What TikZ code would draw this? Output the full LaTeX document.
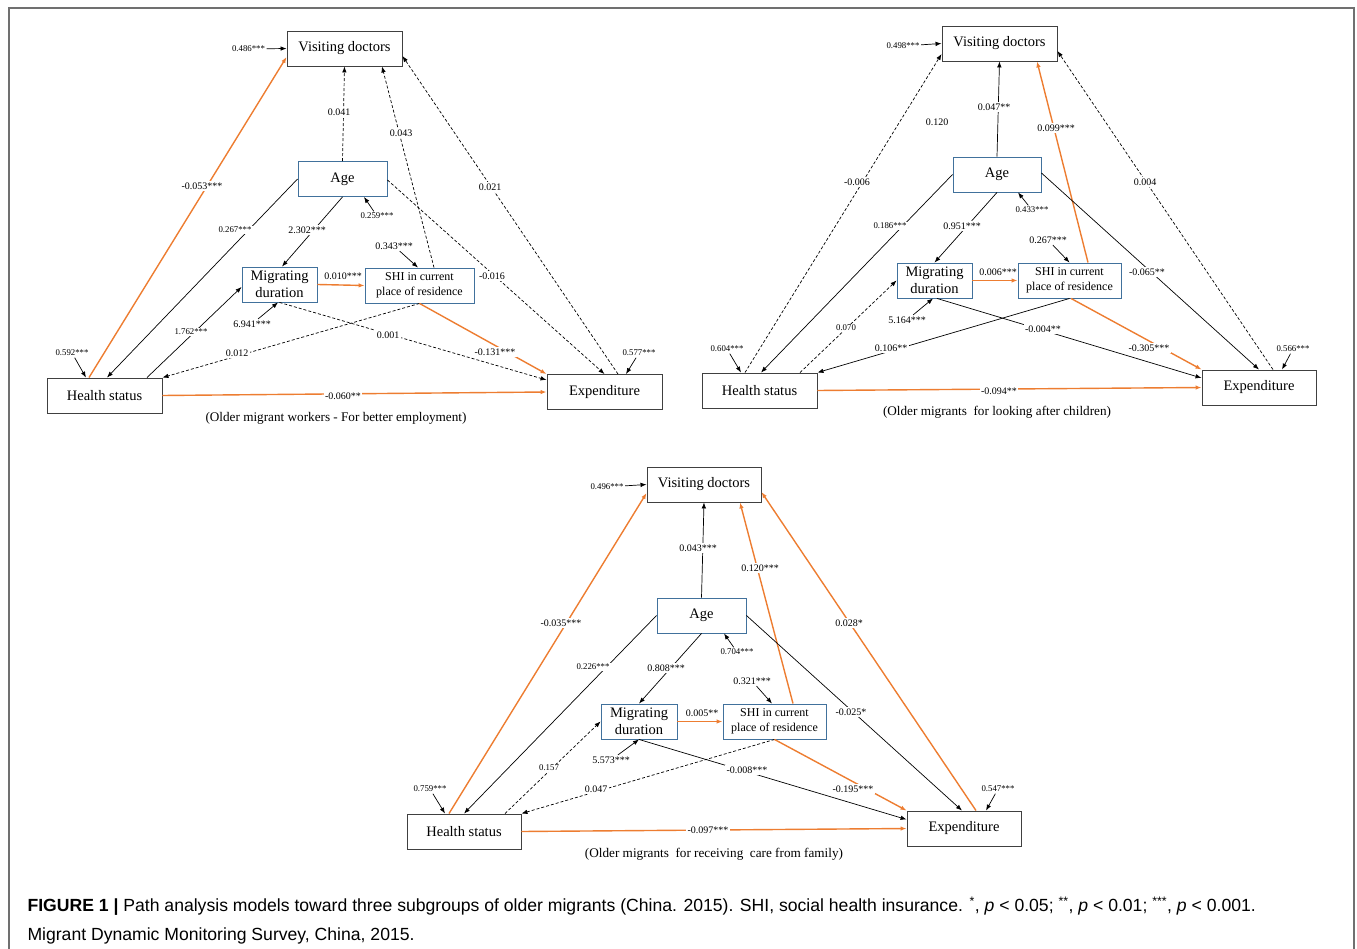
\documentclass[tikz,border=0pt]{standalone}
\usepackage{fontspec}
\setmainfont{Liberation Serif}
\setsansfont{Liberation Sans}
\usepackage{xcolor}
\usetikzlibrary{arrows.meta}

\definecolor{orng}{HTML}{ED7D31}
\definecolor{steel}{HTML}{41719C}
\definecolor{frm}{HTML}{707070}

\begin{document}
\begin{tikzpicture}[
 x=1pt, y=-1pt,
 box/.style = {
    rectangle,
    draw=black!75,
    line width=0.9pt,
    minimum width=115pt,
    minimum height=35pt,
    inner sep=1pt,
    align=center,
    font=\fontsize{14.5}{17}\selectfont},
 vbox/.style = {box, draw=steel},
 sbox/.style = {vbox, font=\fontsize{12}{14.5}\selectfont},
 lbl/.style = {fill=white, inner sep=1.5pt, font=\fontsize{10}{12}\selectfont},
 sml/.style = {lbl, font=\fontsize{8.8}{10}\selectfont},
 subcap/.style = {font=\fontsize{13.2}{15}\selectfont},
 blk/.style = {->, line width=0.7pt},
 dsh/.style = {blk, dash pattern=on 3pt off 2pt},
 org/.style = {->, draw=orng, line width=1.4pt},
 >={Latex[length=6pt,width=4.5pt]}
 ]
\useasboundingbox (0,0) rectangle (1357,949);
\draw[frm, line width=1.2pt] (9,949) -- (9,8) -- (1354,8) -- (1354,949);

% better employment
\node(vd1)[box] at (344.5,48.5){Visiting doctors};
\node(ag1)[vbox, minimum width=89pt] at (342.5,179){Age};
\node(md1)[vbox, minimum width=75pt] at (279.5,284.5){Migrating\\duration};
\node(sh1)[sbox, minimum width=109pt] at (419.5,285.5){SHI in current\\place of residence};
\node(hs1)[box] at (104.5,395.5){Health status};
\node(ex1)[box] at (604.5,392){Expenditure};

\draw[org] ([xshift=-15.5pt]hs1.north) -- ([yshift=-8.5pt]vd1.west);
\draw[dsh] (ag1.north) -- (vd1.south);
\draw[dsh] ([xshift=14.5pt]sh1.north) -- ([xshift=37.5pt]vd1.south);
\draw[dsh] ([xshift=13.5pt]ex1.north) -- ([yshift=-7.5pt]vd1.east);
\draw[dsh] ([yshift=-1pt]ag1.east) -- (ex1.north);
\draw[blk] (ag1.west) -- ([xshift=2.5pt]hs1.north);
\draw[blk] (ag1.south) -- ([xshift=2.5pt]md1.north);
\draw[org] (md1.east) -- (sh1.west);
\draw[blk] ([xshift=42.5pt]hs1.north) -- ([yshift=-2.5pt]md1.west);
\draw[dsh] (sh1.south) -- (hs1.north east);
\draw[dsh] (md1.south) -- ([yshift=12pt]ex1.west);
\draw[org] (sh1.south) -- (ex1.north west);
\draw[org] (hs1.east) -- (ex1.west);

\node(l1a)[lbl] at (202,186){-0.053***};
\node(l1b)[lbl] at (339,112){0.041};
\node(l1c)[lbl] at (401,133){0.043};
\node(l1d)[lbl] at (490,187){0.021};
\node(l1e)[lbl] at (492,276){-0.016};
\node(l1f)[sml] at (235,230){0.267***};
\node(l1g)[lbl] at (307,230){2.302***};
\node(l1h)[lbl] at (343,276){0.010***};
\node(l1i)[sml] at (191,332){1.762***};
\node(l1j)[lbl] at (237,353){0.012};
\node(l1k)[lbl] at (388,335){0.001};
\node(l1l)[lbl] at (495,352){-0.131***};
\node(l1m)[lbl] at (343,396){-0.060**};

\node(r1a)[sml] at (248.5,49){0.486***};
\node(r1b)[sml] at (377,216){0.259***};
\node(r1c)[lbl] at (394,246){0.343***};
\node(r1d)[lbl] at (252,324){6.941***};
\node(r1e)[sml] at (72,353){0.592***};
\node(r1f)[sml] at (639,353){0.577***};
\draw[blk] (r1a) -- (vd1.west);
\draw[blk] (r1b) -- ([xshift=21.5pt]ag1.south);
\draw[blk] (r1c) -- ([xshift=-1.5pt]sh1.north);
\draw[blk] (r1d) -- ([xshift=-1.5pt]md1.south);
\draw[blk] (r1e) -- ([xshift=-18.5pt]hs1.north);
\draw[blk] (r1f) -- ([xshift=21.5pt]ex1.north);
\node(c1)[subcap] at (336,418){(Older migrant workers - For better employment)};

% looking after children
\node(vd2)[box] at (999.5,43.5){Visiting doctors};
\node(ag2)[vbox, minimum width=88pt] at (997,174.5){Age};
\node(md2)[vbox, minimum width=75pt] at (934.5,280.5){Migrating\\duration};
\node(sh2)[sbox, minimum width=103pt] at (1069.5,280.5){SHI in current\\place of residence};
\node(hs2)[box] at (759.5,390.5){Health status};
\node(ex2)[box, minimum width=114pt] at (1259,387.5){Expenditure};

\draw[dsh] ([xshift=-14.5pt]hs2.north) -- ([yshift=-10.5pt]vd2.west);
\draw[blk] (ag2.north) -- (vd2.south);
\draw[org] ([xshift=18.5pt]sh2.north) -- ([xshift=37.5pt]vd2.south);
\draw[dsh] ([xshift=14pt]ex2.north) -- ([yshift=-7.5pt]vd2.east);
\draw[blk] ([yshift=1.5pt]ag2.east) -- (ex2.north);
\draw[blk] (ag2.west) -- ([xshift=1.5pt]hs2.north);
\draw[blk] (ag2.south) -- (md2.north);
\draw[org] (md2.east) -- (sh2.west);
\draw[dsh] ([xshift=40.5pt]hs2.north) -- (md2.west);
\draw[blk] (sh2.south) -- (hs2.north east);
\draw[blk] ([xshift=2.5pt]md2.south) -- ([yshift=9.5pt]ex2.west);
\draw[org] ([xshift=1.5pt]sh2.south) -- (ex2.north west);
\draw[org] (hs2.east) -- (ex2.west);

\node(l2a)[lbl] at (857,182){-0.006};
\node(l2b)[lbl] at (937,122){0.120};
\node(l2c)[lbl] at (994,107){0.047**};
\node(l2d)[lbl] at (1056,128){0.099***};
\node(l2e)[lbl] at (1145,182){0.004};
\node(l2f)[lbl] at (1147,272){-0.065**};
\node(l2g)[sml] at (890,226){0.186***};
\node(l2h)[lbl] at (962,226){0.951***};
\node(l2i)[lbl] at (998,272){0.006***};
\node(l2j)[sml] at (846,328){0.070};
\node(l2k)[lbl] at (891,348){0.106**};
\node(l2l)[lbl] at (1043,329){-0.004**};
\node(l2m)[lbl] at (1149,348){-0.305***};
\node(l2n)[lbl] at (999,391){-0.094**};

\node(r2a)[sml] at (903,46){0.498***};
\node(r2b)[sml] at (1032,210){0.433***};
\node(r2c)[lbl] at (1048,240){0.267***};
\node(r2d)[lbl] at (907,320){5.164***};
\node(r2e)[sml] at (727,349){0.604***};
\node(r2f)[sml] at (1293,349){0.566***};
\draw[blk] (r2a) -- (vd2.west);
\draw[blk] (r2b) -- ([xshift=21pt]ag2.south);
\draw[blk] (r2c) -- (sh2.north);
\draw[blk] (r2d) -- ([xshift=-1.5pt]md2.south);
\draw[blk] (r2e) -- ([xshift=-18.5pt]hs2.north);
\draw[blk] (r2f) -- ([xshift=23pt]ex2.north);
\node(c2)[subcap] at (997,412){(Older migrants\ \ for looking after children)};

% receiving care from family
\node(vd3)[box, minimum width=114pt] at (704,484.5){Visiting doctors};
\node(ag3)[vbox, minimum width=89pt] at (701.5,615.5){Age};
\node(md3)[vbox, minimum width=76pt] at (639,721.5){Migrating\\duration};
\node(sh3)[sbox, minimum width=103pt] at (774.5,721.5){SHI in current\\place of residence};
\node(hs3)[box, minimum width=114pt] at (464,831.5){Health status};
\node(ex3)[box, minimum width=114pt] at (964,828.5){Expenditure};

\draw[org] ([xshift=-15pt]hs3.north) -- ([yshift=-8.5pt]vd3.west);
\draw[blk] (ag3.north) -- (vd3.south);
\draw[org] ([xshift=18.5pt]sh3.north) -- ([xshift=36pt]vd3.south);
\draw[org] ([xshift=12pt]ex3.north) -- ([yshift=-7.5pt]vd3.east);
\draw[blk] (ag3.east) -- ([xshift=-2pt]ex3.north);
\draw[blk] (ag3.west) -- (hs3.north);
\draw[blk] (ag3.south) -- (md3.north);
\draw[org] (md3.east) -- (sh3.west);
\draw[dsh] ([xshift=41pt]hs3.north) -- (md3.west);
\draw[dsh] (sh3.south) -- (hs3.north east);
\draw[blk] (md3.south) -- ([yshift=9pt]ex3.west);
\draw[org] (sh3.south) -- (ex3.north west);
\draw[org] (hs3.east) -- (ex3.west);

\node(l3a)[lbl] at (561,623){-0.035***};
\node(l3b)[lbl] at (698,548){0.043***};
\node(l3c)[lbl] at (760,568){0.120***};
\node(l3d)[lbl] at (849,623){0.028*};
\node(l3e)[lbl] at (851,712){-0.025*};
\node(l3f)[sml] at (593,667){0.226***};
\node(l3g)[lbl] at (666,668){0.808***};
\node(l3h)[lbl] at (702,713){0.005**};
\node(l3i)[sml] at (549,768){0.157};
\node(l3j)[lbl] at (596,789){0.047};
\node(l3k)[lbl] at (747,770){-0.008***};
\node(l3l)[lbl] at (853,789){-0.195***};
\node(l3m)[lbl] at (708,830){-0.097***};

\node(r3a)[sml] at (607,487){0.496***};
\node(r3b)[sml] at (737,652){0.704***};
\node(r3c)[lbl] at (752,681){0.321***};
\node(r3d)[lbl] at (611,760){5.573***};
\node(r3e)[sml] at (430,789){0.759***};
\node(r3f)[sml] at (998,789){0.547***};
\draw[blk] (r3a) -- (vd3.west);
\draw[blk] (r3b) -- ([xshift=22.5pt]ag3.south);
\draw[blk] (r3c) -- ([xshift=-2.5pt]sh3.north);
\draw[blk] (r3d) -- (md3.south);
\draw[blk] (r3e) -- ([xshift=-19pt]hs3.north);
\draw[blk] (r3f) -- ([xshift=22pt]ex3.north);
\node(c3)[subcap] at (714,854){(Older migrants\ \ for receiving\ \ care from family)};

% figure caption
\node(fig)[anchor=west, font=\sffamily\fontsize{17.6}{20}\selectfont] at (24,906){\textbf{FIGURE 1 |} Path analysis models toward three subgroups of older migrants (China. 2015). SHI, social health insurance. \textsuperscript{*}, \textit{p} < 0.05; \textsuperscript{**}, \textit{p} < 0.01; \textsuperscript{***}, \textit{p} < 0.001.};
\node(src)[anchor=west, font=\sffamily\fontsize{17.6}{20}\selectfont] at (24,936){Migrant Dynamic Monitoring Survey, China, 2015.};
\end{tikzpicture}
\end{document}
